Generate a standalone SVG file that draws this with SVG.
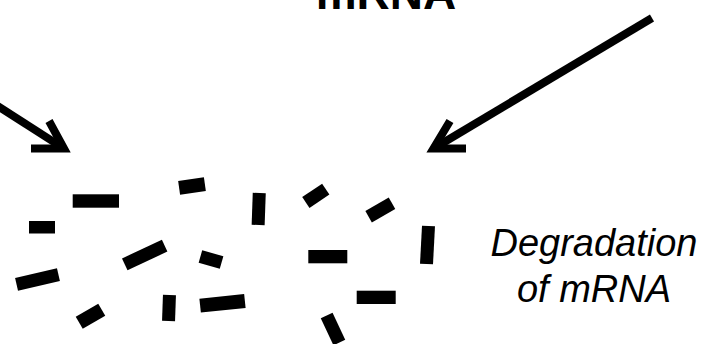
<svg xmlns="http://www.w3.org/2000/svg" width="705" height="344" viewBox="0 0 705 344">
<style>
.bg{fill:#ffffff}
.frag{fill:#000000}
.arrow{fill:none;stroke:#000000;stroke-width:8;stroke-linejoin:miter;stroke-miterlimit:10;stroke-linecap:butt}
.title{font-family:"Liberation Sans",Arial,sans-serif;font-weight:bold;font-size:46px;fill:#000000}
.label{font-family:"Liberation Sans",Arial,sans-serif;font-style:italic;font-size:38px;fill:#000000}
</style>
<rect class="bg" x="0" y="0" width="705" height="344"/>
<g id="title-mRNA">
<text class="title" x="386" y="9" text-anchor="middle">mRNA</text>
</g>
<g id="connectors">
<path class="arrow" d="M-4,105 L64,148.5"/>
<path class="arrow" d="M49,121 L64,148.5 L31,148.5"/>
<path class="arrow" d="M652,18 L433.5,148.5"/>
<path class="arrow" d="M450,121 L433.5,148.5 L466,148.5"/>
</g>
<g id="fragments">
<rect class="frag" x="29" y="221" width="26" height="12.5"/>
<rect class="frag" x="72.7" y="194.3" width="46.3" height="13.4"/>
<rect class="frag" x="-13" y="-7" width="26" height="14" transform="translate(192,186) rotate(-8)"/>
<rect class="frag" x="-6.5" y="-16" width="13" height="32" transform="translate(258.7,209) rotate(2)"/>
<rect class="frag" x="-12" y="-6.5" width="24" height="13" transform="translate(315.8,195.8) rotate(-34)"/>
<rect class="frag" x="-13.5" y="-6.5" width="27" height="13" transform="translate(380.3,210) rotate(-30)"/>
<rect class="frag" x="-6.5" y="-19" width="13" height="38" transform="translate(427.5,245) rotate(3)"/>
<rect class="frag" x="-22" y="-6.5" width="44" height="13" transform="translate(144.7,255) rotate(-25)"/>
<rect class="frag" x="-11" y="-6.5" width="22" height="13" transform="translate(211,259.5) rotate(16)"/>
<rect class="frag" x="308.3" y="250" width="39" height="13.3"/>
<rect class="frag" x="-21.5" y="-6.5" width="43" height="13" transform="translate(37.5,279.5) rotate(-13)"/>
<rect class="frag" x="-13" y="-7" width="26" height="14" transform="translate(90.5,316.3) rotate(-30)"/>
<rect class="frag" x="-6.5" y="-13" width="13" height="26" transform="translate(169,308) rotate(2)"/>
<rect class="frag" x="-22.5" y="-7" width="45" height="14" transform="translate(222.5,303.3) rotate(-6)"/>
<rect class="frag" x="356.7" y="290.7" width="39" height="13.3"/>
<rect class="frag" x="-15" y="-6.5" width="30" height="13" transform="translate(333,329) rotate(65)"/>
</g>
<g id="label-degradation">
<text class="label" text-anchor="middle"><tspan x="594" y="256">Degradation</tspan><tspan x="594" y="302">of mRNA</tspan></text>
</g>
</svg>
